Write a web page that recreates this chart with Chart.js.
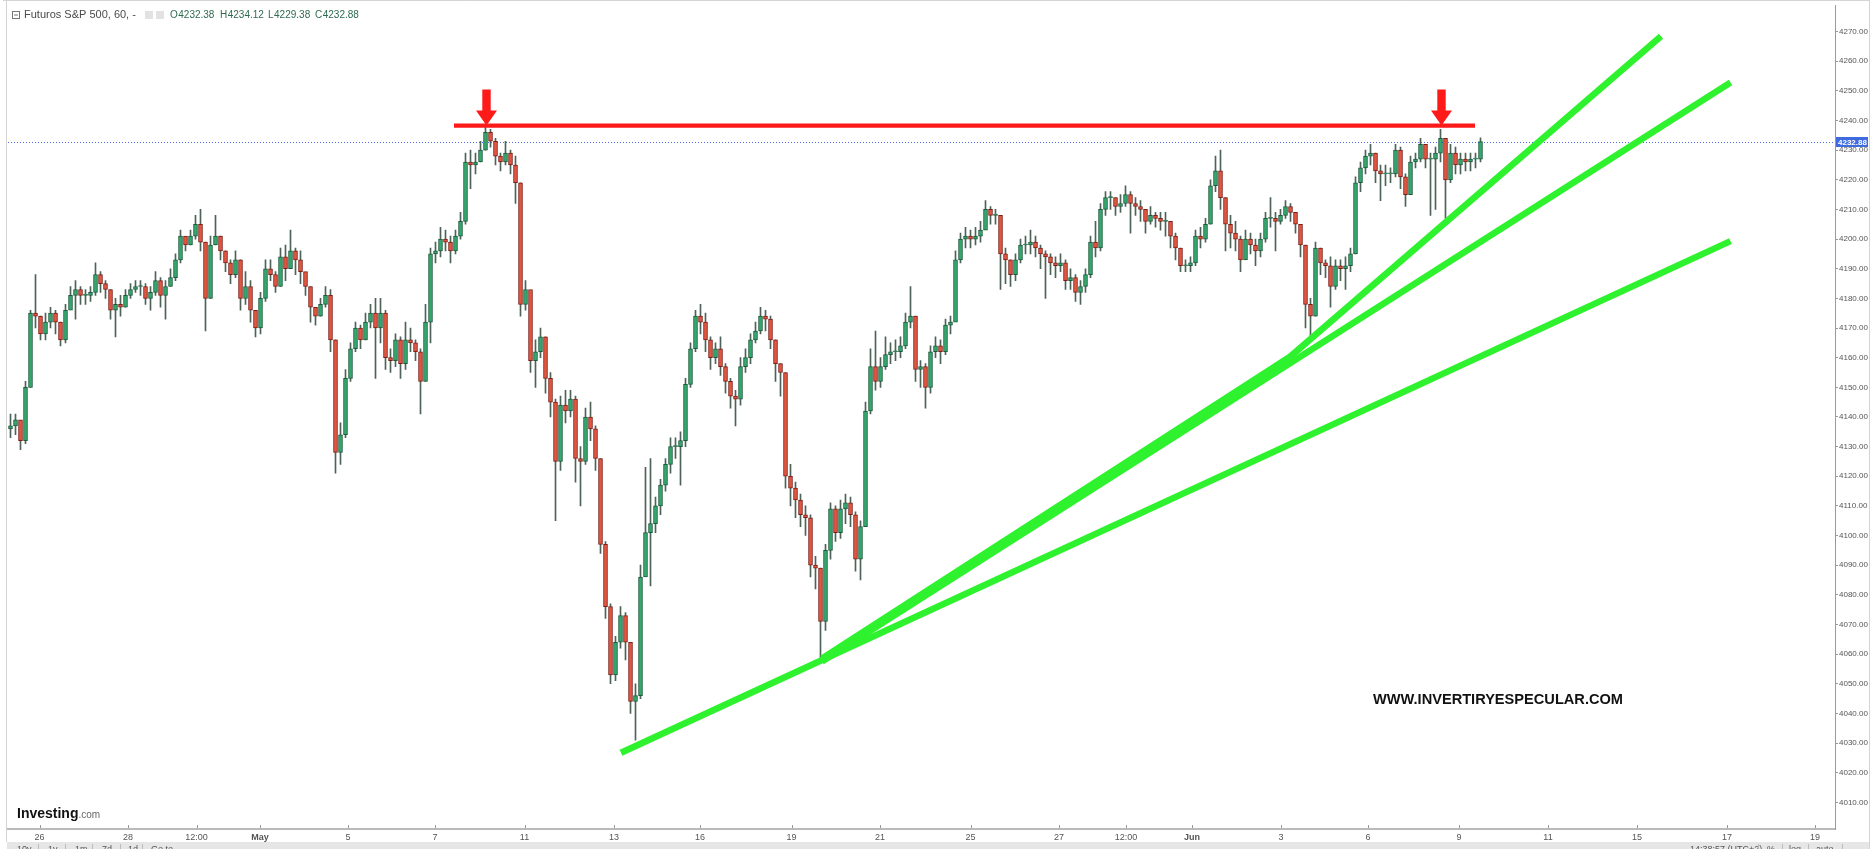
<!DOCTYPE html>
<html>
<head>
<meta charset="utf-8">
<script src="https://cdn.jsdelivr.net/npm/chart.js@4.4.1/dist/chart.umd.min.js"></script>
<style>
html,body{margin:0;padding:0;background:#fff;overflow:hidden;}
#wrap{width:1874px;height:849px;position:relative;}
</style>
</head>
<body>
<div id="wrap"><canvas id="c" width="1874" height="849"></canvas></div>
<script>
// ---------- DATA ----------
const firstOpen = 4136;
const closes = [
4137,4139,4132,4150,4175,4174,4168,4172,4175,4172,
4166,4176,4181,4183,4181,4181,4182,4188,4185,4183,
4176,4178,4177,4181,4183,4184,4184,4180,4182,4186,
4181,4184,4187,4193,4201,4198,4201,4205,4199,4180,
4198,4201,4196,4192,4188,4193,4180,4184,4176,4170,
4180,4190,4188,4184,4194,4190,4196,4193,4189,4184,
4177,4174,4178,4181,4166,4128,4134,4153,4163,4170,
4166,4172,4175,4170,4175,4160,4159,4166,4158,4166,
4165,4162,4152,4172,4195,4196,4200,4199,4196,4201,
4206,4226,4225,4226,4230,4236,4233,4228,4226,4229,
4225,4219,4178,4183,4159,4162,4167,4153,4145,4125,
4144,4142,4146,4126,4125,4140,4136,4126,4097,4076,
4053,4064,4073,4064,4044,4046,4086,4101,4104,4110,
4117,4124,4130,4130,4132,4151,4163,4174,4172,4166,
4160,4163,4157,4152,4147,4146,4157,4160,4166,4169,
4174,4173,4166,4158,4155,4120,4116,4112,4107,4106,
4090,4089,4071,4095,4109,4101,4109,4111,4107,4092,
4103,4142,4157,4152,4157,4161,4162,4162,4164,4172,
4174,4156,4157,4150,4162,4164,4162,4171,4172,4193,
4200,4201,4200,4201,4203,4210,4208,4208,4195,4193,
4188,4193,4198,4198,4199,4197,4195,4194,4192,4191,
4192,4186,4187,4182,4184,4188,4199,4197,4210,4214,
4214,4211,4212,4215,4212,4211,4210,4206,4208,4207,
4206,4206,4201,4197,4191,4191,4192,4201,4200,4205,
4218,4223,4214,4205,4202,4200,4193,4200,4198,4196,
4200,4207,4207,4206,4208,4211,4209,4205,4198,4178,
4174,4197,4192,4191,4184,4191,4190,4191,4195,4219,
4224,4228,4229,4223,4222,4222,4222,4230,4221,4215,
4226,4227,4232,4227,4227,4229,4234,4220,4229,4225,
4227,4226,4227,4227,4232.88
];
const highs = [
4141,4141,4138,4152,4176,4188,4174,4175,4177,4176,
4172,4178,4184,4186,4184,4183,4184,4192,4189,4186,
4183,4180,4181,4183,4185,4186,4186,4185,4184,4189,
4187,4186,4190,4195,4203,4200,4203,4208,4210,4199,
4201,4208,4201,4196,4193,4196,4193,4189,4186,4176,
4182,4193,4193,4189,4197,4198,4203,4197,4196,4188,
4184,4177,4180,4184,4183,4166,4138,4156,4165,4172,
4171,4175,4178,4180,4180,4176,4163,4168,4167,4172,
4170,4166,4163,4178,4197,4199,4204,4203,4201,4203,
4209,4229,4230,4229,4233,4238.5,4237,4234,4229,4233,
4230,4228,4219,4186,4182,4166,4170,4167,4155,4146,
4147,4149,4149,4147,4130,4143,4145,4137,4126,4098,
4077,4066,4076,4074,4064,4050,4090,4123,4126,4113,
4119,4126,4133,4133,4135,4153,4165,4176,4178,4175,
4167,4165,4167,4158,4153,4149,4160,4163,4168,4172,
4177,4176,4174,4166,4158,4155,4124,4118,4114,4110,
4107,4093,4089,4097,4111,4110,4112,4114,4113,4108,
4105,4145,4163,4169,4160,4167,4165,4166,4167,4175,
4184,4174,4159,4158,4164,4167,4166,4173,4174,4196,
4202,4204,4203,4204,4206,4213,4211,4210,4206,4197,
4193,4195,4200,4201,4203,4201,4198,4196,4195,4194,
4195,4193,4190,4188,4186,4190,4201,4206,4212,4216,
4216,4214,4215,4218,4216,4214,4213,4210,4211,4209,
4209,4209,4206,4202,4197,4193,4194,4203,4204,4207,
4220,4228,4230,4214,4208,4206,4201,4203,4202,4200,
4202,4209,4214,4209,4210,4213,4212,4209,4205,4198,
4180,4199,4197,4193,4194,4193,4193,4194,4197,4221,
4226,4230,4232,4229,4225,4225,4224,4232,4231,4222,
4228,4229,4234,4232,4229,4231,4237,4234,4232,4231,
4229,4229,4229,4229,4234.12
];
const lows = [
4133,4134,4129,4131,4150,4170,4166,4166,4170,4168,
4164,4165,4178,4173,4178,4178,4179,4181,4182,4180,
4173,4167,4174,4177,4180,4182,4181,4178,4176,4181,
4177,4173,4184,4186,4192,4196,4198,4200,4196,4169,
4180,4198,4193,4189,4185,4187,4176,4178,4172,4167,
4168,4179,4186,4182,4184,4186,4190,4188,4185,4181,
4172,4171,4174,4177,4162,4121,4124,4133,4152,4162,
4163,4166,4170,4153,4165,4156,4155,4157,4153,4156,
4162,4159,4141,4152,4165,4192,4194,4196,4192,4195,
4200,4205,4217,4222,4226,4230,4231,4225,4223,4225,
4222,4212,4174,4176,4155,4150,4160,4148,4140,4105,
4122,4138,4140,4118,4110,4124,4132,4122,4094,4072,
4050,4051,4062,4058,4040,4031,4045,4098,4083,4101,
4107,4115,4121,4126,4117,4130,4150,4162,4168,4162,
4156,4158,4154,4148,4143,4137,4144,4155,4158,4165,
4168,4169,4163,4152,4147,4116,4110,4106,4103,4100,
4086,4082,4058,4068,4092,4098,4099,4104,4103,4088,
4085,4103,4141,4149,4150,4156,4158,4159,4160,4163,
4170,4152,4150,4143,4148,4160,4158,4161,4168,4173,
4192,4197,4197,4198,4199,4204,4205,4205,4183,4185,
4184,4186,4192,4195,4195,4194,4190,4180,4188,4187,
4189,4183,4183,4179,4178,4182,4187,4194,4196,4208,
4210,4208,4209,4211,4202,4208,4206,4202,4205,4204,
4203,4201,4197,4193,4189,4189,4189,4191,4197,4199,
4205,4216,4210,4196,4197,4196,4189,4196,4195,4191,
4194,4199,4204,4196,4205,4207,4206,4202,4194,4170,
4167,4174,4188,4187,4177,4183,4186,4183,4189,4195,
4216,4222,4225,4219,4213,4218,4219,4221,4217,4211,
4215,4224,4226,4224,4208,4210,4226,4207,4219,4222,
4222,4223,4223,4224,4226
];
// x-axis tick positions (in candle slots) and labels
const xTickPos    = [6.3, 24, 37.7, 50.4, 68, 85.4, 103.3, 121.2, 138.4, 156.7, 174.4, 192.5, 210.2, 223.6, 236.8, 254.6, 272, 290.2, 308, 325.8, 343.8, 361.4];
const xTickLabels = ['26','28','12:00','May','5','7','11','13','16','19','21','25','27','12:00','Jun','3','6','9','11','15','17','19'];
const xBoldLabels = ['May','Jun'];
const yTickValues = [4010,4020,4030,4040,4050,4060,4070,4080,4090,4100,4110,4120,4130,4140,4150,4160,4170,4180,4190,4200,4210,4220,4230,4240,4250,4260,4270];
const xRange = [0, 365.4];
const yRange = [4001.0, 4278.7];
const lastPrice = 4232.88;
const resistance = [[89.2, 4238.3], [293.4, 4238.3]];
const trend1 = [[122.6, 4026.7], [344.5, 4199.3]];
const trend2 = [[162.8, 4057.5], [344.5, 4252.8]];
const trend3 = [[162.8, 4058.5], [256.4, 4160.3], [330.6, 4268.4]];
const arrowTips = [[95.7, 4238.3], [286.7, 4238.3]];
const titleText = 'Futuros S&P 500, 60, -';
const ohlc = [['O','4232.38'],['H','4234.12'],['L','4229.38'],['C','4232.88']];
const watermark = 'WWW.INVERTIRYESPECULAR.COM';

// ---------- build datasets ----------
const opens = [firstOpen].concat(closes.slice(0, -1));
const bodies = closes.map((c, i) => ({x: i + 0.5, y: [opens[i], c]}));
const wicks  = closes.map((c, i) => ({x: i + 0.5, y: [lows[i], highs[i]]}));
const isUp = closes.map((c, i) => c >= opens[i]);
const toPts = arr => arr.map(p => ({x: p[0], y: p[1]}));

const sans = '"Liberation Sans", Arial, sans-serif';
const GREEN = '#2ef22e';

const chrome = {
  id: 'chrome',
  beforeDraw(chart) {
    const ctx = chart.ctx;
    ctx.save();
    ctx.fillStyle = '#fff';
    ctx.fillRect(0, 0, chart.width, chart.height);
    ctx.restore();
  },
  beforeDatasetsDraw(chart) {
    const ctx = chart.ctx, a = chart.chartArea;
    const y = Math.round(chart.scales.y.getPixelForValue(lastPrice)) + 0.5;
    ctx.save();
    ctx.strokeStyle = '#4a6fe3';
    ctx.lineWidth = 1;
    ctx.setLineDash([1, 2]);
    ctx.beginPath();
    ctx.moveTo(a.left, y);
    ctx.lineTo(a.right, y);
    ctx.stroke();
    ctx.restore();
  },
  afterDraw(chart) {
    const ctx = chart.ctx, a = chart.chartArea;
    const xs = chart.scales.x, ys = chart.scales.y;
    ctx.save();
    // red arrows
    ctx.fillStyle = '#ff1a1a';
    arrowTips.forEach(([xv, yv]) => {
      const px = xs.getPixelForValue(xv), py = ys.getPixelForValue(yv);
      ctx.beginPath();
      ctx.moveTo(px, py);
      ctx.lineTo(px - 10.5, py - 15);
      ctx.lineTo(px - 4.2, py - 15);
      ctx.lineTo(px - 4.2, py - 36);
      ctx.lineTo(px + 4.2, py - 36);
      ctx.lineTo(px + 4.2, py - 15);
      ctx.lineTo(px + 10.5, py - 15);
      ctx.closePath();
      ctx.fill();
    });
    // x tick marks above axis
    ctx.strokeStyle = '#999';
    ctx.lineWidth = 1;
    xTickPos.forEach(v => {
      const px = Math.round(xs.getPixelForValue(v)) + 0.5;
      ctx.beginPath(); ctx.moveTo(px, a.bottom - 4); ctx.lineTo(px, a.bottom - 1); ctx.stroke();
    });
    // last price box
    const py = ys.getPixelForValue(lastPrice);
    ctx.fillStyle = '#3f6be0';
    ctx.fillRect(a.right + 1, Math.round(py) - 5, 32, 10);
    ctx.fillStyle = '#fff';
    ctx.font = 'bold 8px ' + sans;
    ctx.textBaseline = 'middle';
    ctx.textAlign = 'left';
    ctx.fillText(lastPrice.toFixed(2), a.right + 3, Math.round(py) + 0.5);
    // borders
    ctx.strokeStyle = '#d4d4d4';
    ctx.beginPath(); ctx.moveTo(3, 0.5); ctx.lineTo(1869, 0.5); ctx.stroke();
    ctx.beginPath(); ctx.moveTo(6.5, 0); ctx.lineTo(6.5, 842); ctx.stroke();
    ctx.beginPath(); ctx.moveTo(1869.5, 0); ctx.lineTo(1869.5, 849); ctx.stroke();
    // title row
    ctx.strokeStyle = '#777';
    ctx.strokeRect(12.5, 11.5, 7, 7);
    ctx.beginPath(); ctx.moveTo(14, 15); ctx.lineTo(18, 15); ctx.stroke();
    ctx.font = '11px ' + sans;
    ctx.textBaseline = 'middle';
    ctx.fillStyle = '#4a4a4a';
    ctx.fillText(titleText, 24, 15);
    ctx.fillStyle = '#e2e2e2';
    ctx.fillRect(145, 11, 8, 8);
    ctx.fillRect(156, 11, 8, 8);
    ctx.fillStyle = '#2d6a50';
    ctx.font = '10px ' + sans;
    const ohlcX = [170, 220, 268, 315];
    ohlc.forEach(([k, v], i) => {
      ctx.fillText(k, ohlcX[i], 15);
      ctx.fillText(v, ohlcX[i] + ctx.measureText(k).width + 0.5, 15);
    });
    // watermark
    ctx.fillStyle = '#111';
    ctx.font = 'bold 14.6px ' + sans;
    ctx.textBaseline = 'alphabetic';
    ctx.fillText(watermark, 1373, 704);
    // Investing.com logo
    ctx.fillStyle = '#111';
    ctx.font = 'bold 14px ' + sans;
    ctx.fillText('Investing', 17, 818);
    const lw = ctx.measureText('Investing').width;
    ctx.fillStyle = '#666';
    ctx.font = '10px ' + sans;
    ctx.fillText('.com', 17 + lw, 818);
    // bottom toolbar
    ctx.fillStyle = '#e6e6e6';
    ctx.fillRect(7, 842, 1862, 7);
    ctx.fillStyle = '#555';
    ctx.font = '9px ' + sans;
    ctx.textBaseline = 'top';
    [['10y',17],['1y',48],['1m',75],['7d',102],['1d',128],['Go to',151]].forEach(([t,x]) => ctx.fillText(t, x, 845));
    [['14:38:57 (UTC+2)',1690],['%',1767],['log',1789],['auto',1816]].forEach(([t,x]) => ctx.fillText(t, x, 845));
    ctx.strokeStyle = '#bbb';
    [38, 65, 92, 120, 142, 1758, 1782, 1808, 1842].forEach(x => {
      ctx.beginPath(); ctx.moveTo(x + 0.5, 844); ctx.lineTo(x + 0.5, 849); ctx.stroke();
    });
    ctx.restore();
  }
};

new Chart(document.getElementById('c'), {
  type: 'bar',
  data: {
    datasets: [
      {type: 'line', data: toPts(resistance), borderColor: '#ff1a1a', borderWidth: 4.3, pointRadius: 0, order: 0},
      {type: 'line', data: toPts(trend1), borderColor: GREEN, borderWidth: 6.5, pointRadius: 0, order: 0},
      {type: 'line', data: toPts(trend2), borderColor: GREEN, borderWidth: 6.5, pointRadius: 0, order: 0},
      {type: 'line', data: toPts(trend3), borderColor: GREEN, borderWidth: 6.5, pointRadius: 0, tension: 0, order: 0},
      {type: 'bar', data: bodies, grouped: false, barThickness: 4, minBarLength: 1,
        backgroundColor: isUp.map(u => u ? '#33a86c' : '#e2553f'),
        borderColor: isUp.map(u => u ? '#1c5a3d' : '#7d1d17'),
        borderWidth: 1, borderSkipped: false, order: 1},
      {type: 'bar', data: wicks, grouped: false, barThickness: 1,
        backgroundColor: '#4d6358', borderWidth: 0, order: 2}
    ]
  },
  options: {
    responsive: false,
    animation: false,
    devicePixelRatio: 1,
    layout: {padding: {left: 8, top: 3, right: 0, bottom: 7}},
    plugins: {legend: {display: false}, tooltip: {enabled: false}},
    scales: {
      x: {
        type: 'linear', min: xRange[0], max: xRange[1], offset: false,
        grid: {display: false, drawTicks: false},
        border: {display: true, color: '#b9b9b9', width: 2},
        afterBuildTicks: s => { s.ticks = xTickPos.map(v => ({value: v})); },
        afterFit: s => { s.height = 13; },
        ticks: {
          autoSkip: false, maxRotation: 0, minRotation: 0, padding: 3, color: '#555',
          font: c => ({family: sans, size: 9, weight: xBoldLabels.includes(xTickLabels[c.index]) ? 'bold' : 'normal'}),
          callback: (v, i) => xTickLabels[i]
        }
      },
      y: {
        type: 'linear', position: 'right', min: yRange[0], max: yRange[1],
        grid: {drawOnChartArea: false, drawTicks: true, tickLength: 3, color: '#999'},
        border: {display: true, color: '#9a9a9a'},
        afterBuildTicks: s => { s.ticks = yTickValues.map(v => ({value: v})); },
        afterFit: s => { s.width = 39; },
        ticks: {padding: 1, color: '#555', font: {family: sans, size: 8}, callback: v => Number(v).toFixed(2)}
      }
    }
  },
  plugins: [chrome]
});
</script>
</body>
</html>
